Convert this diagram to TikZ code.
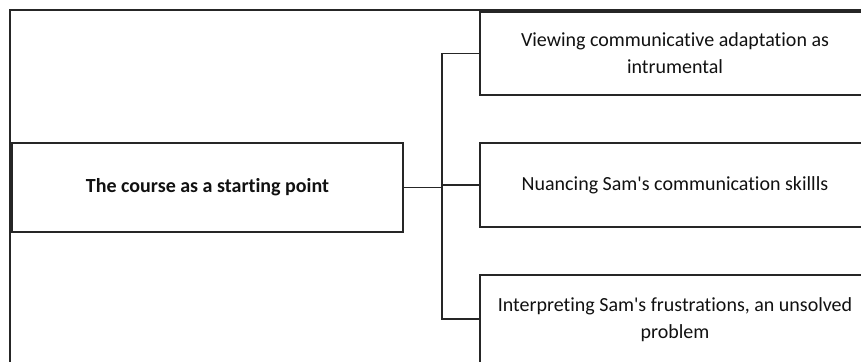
\documentclass[tikz,border=0pt]{standalone}
\usepackage{fontspec}
\setmainfont{Carlito}[Ligatures=NoCommon]
\definecolor{linec}{HTML}{262626}
\definecolor{textc}{HTML}{111111}
\begin{document}
\begin{tikzpicture}[x=1pt,y=-1pt,
  box/.style={draw=linec, line width=1.7pt, inner sep=0pt, align=center,
    font=\fontsize{20}{27}\selectfont, text=textc},
  rootbox/.style={box, font=\fontsize{20}{24}\selectfont\bfseries},
  link/.style={draw=linec, line width=1.7pt},
  frame/.style={draw=linec, line width=2.6pt}]
\useasboundingbox (0,0) rectangle (861,361);
\clip (0,0) rectangle (861,361);
\fill[white] (0,0) rectangle (861,361);
\draw[frame] (10,375) -- (10,10) -- (875,10);
\node[rootbox, minimum width=391, minimum height=89] (root) at (207.5,187.5) {The course as a starting point};
\node[box, minimum width=390, minimum height=83] (top) at (675,53.5) {Viewing communicative adaptation as\\intrumental};
\node[box, minimum width=390, minimum height=84] (mid) at (675,185) {Nuancing Sam\textquotesingle s communication skillls};
\node[box, minimum width=390, minimum height=89] (bot) at (675,319.5) {Interpreting Sam\textquotesingle s frustrations, an unsolved\\problem};
\coordinate (bus) at (442,185);
\draw[link] (root.east) -- (root.east -| bus);
\draw[link] (top.west) -- (top.west -| bus) -- (bus |- 319,319) -- (319,319 -| bot.west);
\draw[link] (mid.west) -- (mid.west -| bus);
\end{tikzpicture}
\end{document}
